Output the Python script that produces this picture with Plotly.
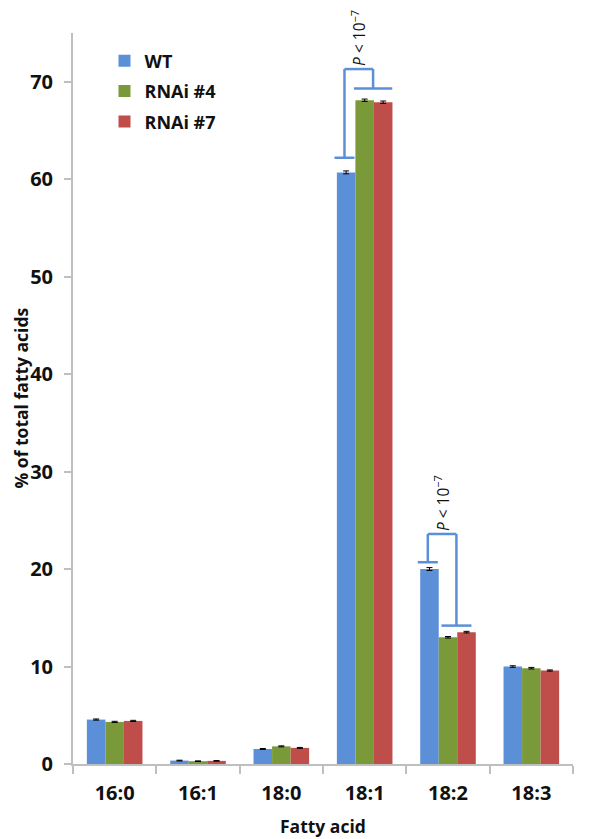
import plotly.graph_objects as go

categories = ["16:0", "16:1", "18:0", "18:1", "18:2", "18:3"]
series_names = ["WT", "RNAi #4", "RNAi #7"]
wt = [4.56, 0.35, 1.54, 60.7, 20.0, 10.0]
rnai4 = [4.32, 0.29, 1.81, 68.1, 13.0, 9.83]
rnai7 = [4.42, 0.32, 1.65, 67.9, 13.53, 9.59]
wt_err = [0.06, 0.04, 0.05, 0.15, 0.15, 0.08]
rnai4_err = [0.06, 0.03, 0.05, 0.12, 0.08, 0.08]
rnai7_err = [0.06, 0.03, 0.05, 0.12, 0.08, 0.06]
colors = ["#5B8FD8", "#7A9A3A", "#BF4E4B"]

# significance brackets: (category index, left cap y, top y, right cap y)
brackets = [
    (3, 62.2, 71.3, 69.3),
    (4, 20.7, 23.6, 14.2),
]
p_label = "<i>P</i> < 10<sup>−7</sup>"
x_title = "Fatty acid"
y_title = "% of total fatty acids"

FONT = "Open Sans"
fig = go.Figure()
for name, vals, errs, col in zip(series_names, [wt, rnai4, rnai7],
                                 [wt_err, rnai4_err, rnai7_err], colors):
    fig.add_trace(go.Bar(
        x=categories, y=vals, name=name, legendgroup=name,
        marker=dict(color=col, line=dict(width=0)),
        error_y=dict(type="data", array=errs, color="black", thickness=1, width=3),
    ))

bw = 0.6667 / 3
shapes = []
annotations = []
lc = "#5B8FD8"
for idx, yl, yt, yr in brackets:
    xl = idx - bw - 0.02
    xr = idx + bw / 2 - 0.01
    line = dict(color=lc, width=2.5)
    shapes.append(dict(type="line", xref="x", yref="y", x0=xl - 0.12, x1=xl + 0.12, y0=yl, y1=yl, line=line))
    shapes.append(dict(type="line", xref="x", yref="y", x0=xl, x1=xl, y0=yl, y1=yt, line=line))
    shapes.append(dict(type="line", xref="x", yref="y", x0=xl, x1=xr, y0=yt, y1=yt, line=line))
    shapes.append(dict(type="line", xref="x", yref="y", x0=xr, x1=xr, y0=yt, y1=yr, line=line))
    half = 0.23 if idx == 3 else 0.18
    shapes.append(dict(type="line", xref="x", yref="y", x0=xr - half, x1=xr + half, y0=yr, y1=yr, line=line))
    annotations.append(dict(x=(xl + xr) / 2, y=yt + 0.1, xref="x", yref="y", text=p_label,
                            textangle=-90, showarrow=False, xanchor="center", yanchor="bottom",
                            font=dict(family=FONT, size=15.5, color="#111")))

annotations.append(dict(x=0.5, y=-0.085, xref="paper", yref="paper", text=x_title, showarrow=False,
                        xanchor="center", yanchor="middle",
                        font=dict(family=FONT, size=17.5, color="#111", weight="bold")))
annotations.append(dict(x=-0.106, y=0.5, xref="paper", yref="paper", text=y_title, showarrow=False,
                        textangle=-90, xanchor="center", yanchor="middle",
                        font=dict(family=FONT, size=17.5, color="#111", weight="bold")))

# page body has an 8px margin: compensate so the plot area sits where the reference has it
fig.update_layout(
    width=600, height=839,
    margin=dict(l=65, r=35, t=25, b=83),
    paper_bgcolor="white", plot_bgcolor="white",
    barmode="group", bargap=0.333, bargroupgap=0,
    font=dict(family=FONT, color="#111"),
    shapes=shapes, annotations=annotations,
    showlegend=True,
    legend=dict(x=0.063, y=0.987, xanchor="left", yanchor="top", bgcolor="rgba(0,0,0,0)",
                font=dict(family=FONT, size=18, color="#111", weight="bold"),
                tracegroupgap=4, itemwidth=30),
    xaxis=dict(type="category", range=[-0.5, 5.5], tickson="boundaries", ticks="outside",
               ticklen=8, tickcolor="#BFBFBF", tickwidth=1.5, showline=True, linecolor="#BFBFBF",
               linewidth=2, showgrid=False, automargin=False, ticklabelstandoff=10,
               tickfont=dict(family=FONT, size=20, color="#111", weight="bold")),
    yaxis=dict(range=[0, 75], dtick=10, ticks="outside", ticklen=7, tickcolor="#BFBFBF",
               tickwidth=1.5, showline=True, linecolor="#BFBFBF", linewidth=2, showgrid=False,
               zeroline=False, ticklabelstandoff=7, automargin=False,
               tickfont=dict(family=FONT, size=20, color="#111", weight="bold")),
)

fig.write_html("out.html")
